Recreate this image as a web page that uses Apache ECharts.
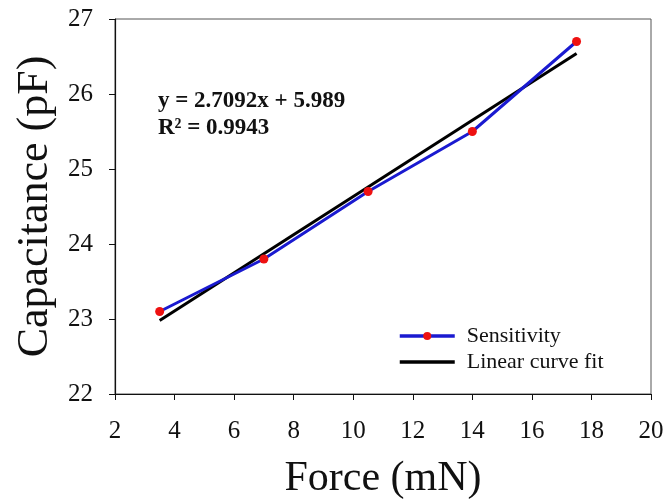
<!DOCTYPE html>
<html>
<head>
<meta charset="utf-8">
<title>Capacitance vs Force</title>
<script src="https://cdn.jsdelivr.net/npm/echarts@6/dist/echarts.min.js"></script>
<style>
  html, body { margin: 0; padding: 0; background: #fff; }
  #chart { width: 667px; height: 499px; }
</style>
</head>
<body>
<div id="chart"></div>
<script>
// measured points
const forceVals = [3.5, 7, 10.5, 14, 17.5]
const capVals = [23.1, 23.8, 24.7, 25.5, 26.7]
// fit line end points
const fitForce = [3.5, 17.5]
const fitCap = [22.98, 26.54]

const seriesNames = ['Sensitivity', 'Linear curve fit']
const fitText = ['y = 2.7092x + 5.989', 'R² = 0.9943']

const serif = 'Liberation Serif'

const chart = echarts.init(document.getElementById('chart'))
const option = {
  backgroundColor: '#fff',
  animation: false,
  grid: {
    left: 115,
    right: 16,
    top: 19,
    bottom: 105,
    outerBoundsMode: 'none', // keep the plot box where it is
    show: true,
    borderColor: '#555',
    borderWidth: 1
  },
  legend: {
    data: [
      { name: seriesNames[0] },
      { name: seriesNames[1], itemStyle: { opacity: 0 } } // line only, no dot
    ],
    orient: 'vertical',
    left: 393,
    top: 320,
    itemWidth: 55,
    itemHeight: 10,
    itemGap: 4,
    lineStyle: { width: 3.5 },
    textStyle: {
      fontFamily: serif,
      fontSize: 22,
      color: '#111',
      padding: [0, 0, 0, 7]
    }
  },
  graphic: [
    {
      type: 'text',
      left: 158,
      top: 88,
      style: {
        text: fitText.join('\n'),
        font: 'bold 23px "Liberation Serif"',
        lineHeight: 27,
        fill: '#111'
      }
    }
  ],
  xAxis: {
    type: 'value',
    min: 2,
    max: 20,
    interval: 2,
    name: 'Force (mN)',
    nameLocation: 'middle',
    nameGap: 64,
    nameTextStyle: { fontFamily: serif, fontSize: 42, color: '#111' },
    axisLine: { lineStyle: { color: '#111', width: 1.2 } },
    axisTick: { inside: false, length: 6, lineStyle: { color: '#111' } },
    axisLabel: { fontFamily: serif, fontSize: 25, color: '#111', margin: 25 },
    splitLine: { show: false }
  },
  yAxis: {
    type: 'value',
    min: 22,
    max: 27,
    interval: 1,
    name: 'Capacitance (pF)',
    nameLocation: 'middle',
    nameGap: 58,
    nameTextStyle: { fontFamily: serif, fontSize: 44, color: '#111' },
    axisLine: { show: true, lineStyle: { color: '#111', width: 1.2 } },
    axisTick: { show: true, inside: false, length: 6, lineStyle: { color: '#111' } },
    axisLabel: { fontFamily: serif, fontSize: 25, color: '#111', margin: 22 },
    splitLine: { show: false }
  },
  series: [
    {
      name: seriesNames[1],
      type: 'line',
      data: fitForce.map((f, i) => [f, fitCap[i]]),
      symbol: 'none',
      lineStyle: { color: '#000', width: 3 },
      itemStyle: { color: '#000' }
    },
    {
      name: seriesNames[0],
      type: 'line',
      data: forceVals.map((f, i) => [f, capVals[i]]),
      symbol: 'circle',
      symbolSize: 9,
      lineStyle: { color: '#1a1ad0', width: 3 },
      itemStyle: { color: '#ee1111' }
    }
  ]
}
chart.setOption(option)
</script>
</body>
</html>
